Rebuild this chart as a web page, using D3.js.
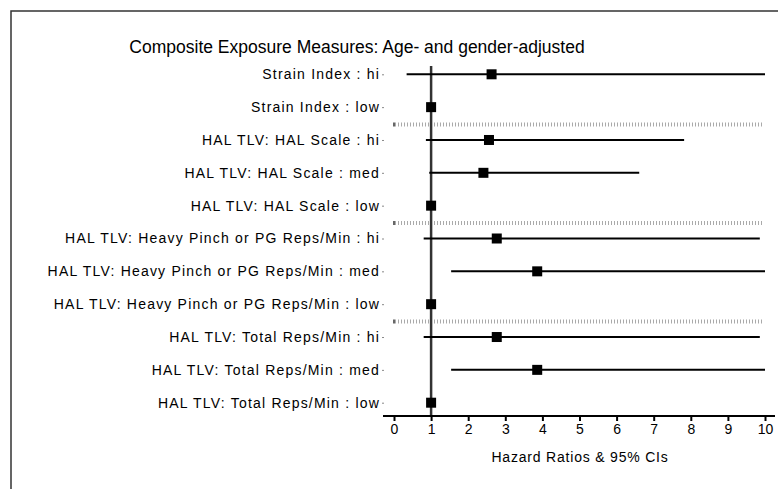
<!DOCTYPE html>
<meta charset="utf-8">
<style>
body { margin: 0; background: #fff; }
text { font-family: "Liberation Sans", Arial, sans-serif; }
</style>
<body>
<script src="https://cdn.jsdelivr.net/npm/d3@7"></script>
<script>

var labels = [
  "Strain Index : hi",
  "Strain Index : low",
  "HAL TLV: HAL Scale : hi",
  "HAL TLV: HAL Scale : med",
  "HAL TLV: HAL Scale : low",
  "HAL TLV: Heavy Pinch or PG Reps/Min : hi",
  "HAL TLV: Heavy Pinch or PG Reps/Min : med",
  "HAL TLV: Heavy Pinch or PG Reps/Min : low",
  "HAL TLV: Total Reps/Min : hi",
  "HAL TLV: Total Reps/Min : med",
  "HAL TLV: Total Reps/Min : low"
];
var hr    = [2.63, 1, 2.56, 2.41, 1, 2.77, 3.86, 1, 2.77, 3.86, 1];
var lower = [0.34, 1, 0.86, 0.95, 1, 0.80, 1.54, 1, 0.80, 1.54, 1];
var upper = [10,   1, 7.82, 6.61, 1, 9.86, 10,   1, 9.86, 10,   1];
// separators drawn after these rows (end of each measure group)
var groupEnds = [1, 4, 7];
var xTicks = [0, 1, 2, 3, 4, 5, 6, 7, 8, 9, 10];

var W = 778, H = 489;

var svg = d3.select("body").append("svg")
    .attr("width", W)
    .attr("height", H);

// outer frame (runs off right and bottom edges)
svg.append("rect")
    .attr("x", 11).attr("y", 11)
    .attr("width", W).attr("height", H)
    .attr("fill", "none")
    .attr("stroke", "#333")
    .attr("stroke-width", 1.5);

var x = d3.scaleLinear().domain([0, 10]).range([394, 765]);
var y = d3.scalePoint().domain(labels).range([74.3, 402.7]);
var step = y.step();

svg.append("text")
    .attr("x", 357).attr("y", 53)
    .attr("text-anchor", "middle")
    .style("font-size", "17.5px")
    .text("Composite Exposure Measures: Age- and gender-adjusted");

// group separators
groupEnds.forEach(function(i) {
  var yy = y(labels[i]) + step / 2 + 1;
  svg.append("line")
      .attr("x1", x(0) + 1).attr("x2", 763)
      .attr("y1", yy).attr("y2", yy)
      .attr("stroke", "#aaa")
      .attr("stroke-width", 4)
      .attr("stroke-dasharray", "1,2");
  svg.append("line")
      .attr("x1", x(0)).attr("x2", x(0))
      .attr("y1", yy - 2).attr("y2", yy + 2)
      .attr("stroke", "#000")
      .attr("stroke-width", 1.2);
});

// reference line at HR = 1
svg.append("line")
    .attr("x1", x(1)).attr("x2", x(1))
    .attr("y1", 66).attr("y2", 415)
    .attr("stroke", "#333")
    .attr("stroke-width", 2.5);

// y axis: labels + tiny ticks
var yAxis = svg.append("g")
    .attr("transform", "translate(384,0)")
    .call(d3.axisLeft(y).tickSize(2).tickPadding(2));
yAxis.select(".domain").remove();
yAxis.selectAll(".tick line").attr("stroke", "#888").attr("stroke-width", 1);
yAxis.selectAll("text")
    .style("font-size", "14px")
    .style("letter-spacing", "1.2px")
    .attr("fill", "#000")
    .attr("font-family", null);

var rows = labels.map(function(l, i) {
  return {label: l, hr: hr[i], lo: lower[i], hi: upper[i]};
});

svg.selectAll(".ci")
    .data(rows.filter(function(d) { return d.hi > d.lo; }))
  .enter().append("line")
    .attr("class", "ci")
    .attr("x1", function(d) { return x(d.lo); })
    .attr("x2", function(d) { return x(d.hi); })
    .attr("y1", function(d) { return y(d.label); })
    .attr("y2", function(d) { return y(d.label); })
    .attr("stroke", "#000")
    .attr("stroke-width", 2);

svg.selectAll(".pt")
    .data(rows)
  .enter().append("rect")
    .attr("class", "pt")
    .attr("x", function(d) { return x(d.hr) - 5; })
    .attr("y", function(d) { return y(d.label) - 5; })
    .attr("width", 10)
    .attr("height", 10)
    .attr("fill", "#000");

// x axis
var xAxis = svg.append("g")
    .attr("transform", "translate(0,416)")
    .call(d3.axisBottom(x).tickValues(xTicks).tickSize(5).tickPadding(3).tickSizeOuter(0));
xAxis.select(".domain")
    .attr("d", "M383,0H775")
    .attr("stroke", "#000")
    .attr("stroke-width", 2);
xAxis.selectAll(".tick line").attr("stroke-width", 2);
xAxis.selectAll("text")
    .style("font-size", "14px")
    .attr("font-family", null);

svg.append("text")
    .attr("x", 580).attr("y", 462)
    .attr("text-anchor", "middle")
    .style("font-size", "14px")
    .style("letter-spacing", "0.8px")
    .text("Hazard Ratios & 95% CIs");

</script>
</body>
